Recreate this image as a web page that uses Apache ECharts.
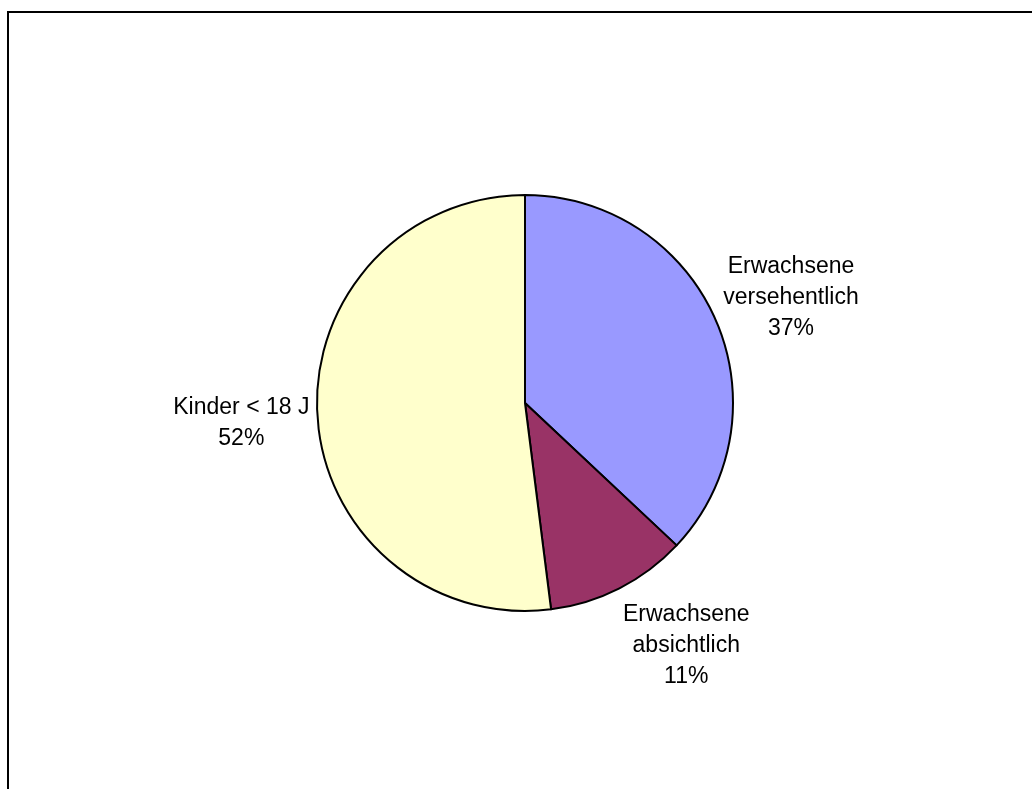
<!DOCTYPE html>
<html>
<head>
<meta charset="utf-8">
<script src="https://cdn.jsdelivr.net/npm/echarts@6/dist/echarts.min.js"></script>
<style>
  html, body { margin: 0; padding: 0; background: #ffffff; }
  #chart { width: 1032px; height: 789px; }
</style>
</head>
<body>
<div id="chart"></div>
<script>
// Categories and their shares (percent)
const categories = ['Erwachsene\nversehentlich', 'Erwachsene\nabsichtlich', 'Kinder < 18 J'];
const shares = [37, 11, 52];
const sliceColors = ['#9999FF', '#993366', '#FFFFCC'];

// Pie geometry (pixels)
const CX = 525, CY = 403, R = 208;
const START_ANGLE = 90;

const total = shares.reduce((a, b) => a + b, 0);

// Mid angle of slice i in radians (math orientation, clockwise from START_ANGLE)
function midAngle(i) {
  let before = 0;
  for (let j = 0; j < i; j++) before += shares[j];
  return (START_ANGLE - (before + shares[i] / 2) / total * 360) * Math.PI / 180;
}

const clamp = v => Math.max(-1, Math.min(1, v));

const chart = echarts.init(document.getElementById('chart'), null, { renderer: 'canvas' });

chart.setOption({
  animation: false,
  backgroundColor: '#ffffff',
  graphic: [{
    type: 'rect',
    shape: { x: 8, y: 12, width: 1200, height: 900 },
    style: { fill: 'none', stroke: '#000000', lineWidth: 2 },
    silent: true
  }],
  series: [{
    type: 'pie',
    center: [CX, CY],
    radius: R,
    startAngle: START_ANGLE,
    clockwise: true,
    avoidLabelOverlap: false,
    emphasis: { disabled: true },
    itemStyle: { borderColor: '#000000', borderWidth: 2 },
    label: {
      show: true,
      position: 'outside',
      formatter: '{b}\n{d}%',
      fontFamily: '"Liberation Sans", Arial, sans-serif',
      fontSize: 23,
      lineHeight: 31,
      color: '#000000',
      align: 'center'
    },
    labelLine: { show: false },
    // Place each label just beyond the rim along its slice's mid angle,
    // with the text box pushed outward so it never overlaps the pie.
    labelLayout: function (p) {
      const a = midAngle(p.dataIndex);
      const c = Math.cos(a), s = Math.sin(a);
      const w = p.labelRect.width, h = p.labelRect.height;
      const gap = 8;
      const fx = clamp(c * 2.2);
      const fy = clamp(s * 1.25);
      return {
        x: CX + (R + gap) * c + fx * w / 2,
        y: CY - (R + gap) * s - fy * h / 2 + 4,
        align: 'center',
        verticalAlign: 'middle'
      };
    },
    data: categories.map((name, i) => ({
      name: name,
      value: shares[i],
      itemStyle: { color: sliceColors[i] }
    }))
  }]
});
</script>
</body>
</html>
